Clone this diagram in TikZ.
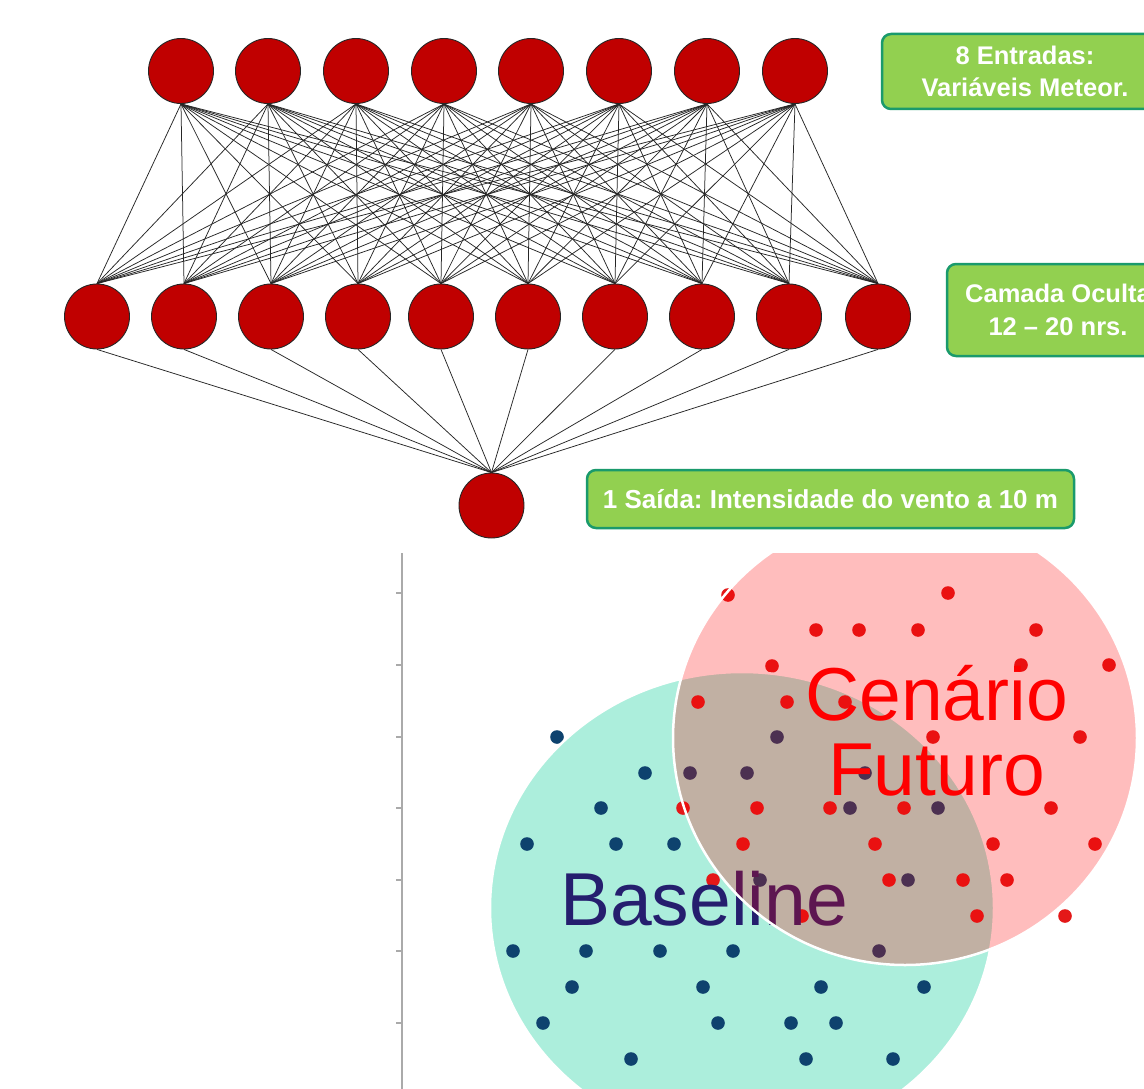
\documentclass[tikz,border=0pt]{standalone}
\usepackage{fontspec}
\setmainfont{Liberation Sans}
\frenchspacing
\definecolor{neuronred}{HTML}{C00000}
\definecolor{boxfill}{HTML}{92D050}
\definecolor{boxline}{HTML}{1A9A6C}
\definecolor{tealfill}{RGB}{172,238,220}
\definecolor{dotblue}{RGB}{14,66,110}
\definecolor{dotred}{RGB}{228,24,24}
\definecolor{basecol}{RGB}{37,30,110}
\definecolor{axisgray}{RGB}{170,170,170}
\begin{document}
\begin{tikzpicture}[x=1pt,y=-1pt,
  neuron/.style={circle,fill=neuronred,draw=black!85,line width=0.9pt,minimum size=65pt,inner sep=0pt},
  link/.style={line width=0.75pt,black!85},
  labelbox/.style={rounded corners=9pt,fill=boxfill,draw=boxline,line width=2.5pt,text=white,align=center,inner sep=0pt},
  axisline/.style={draw=axisgray,line width=1.4pt},
  bigword/.style={font=\fontsize{75}{75}\selectfont,anchor=base,inner sep=0pt},
  ringline/.style={draw=white,line width=2.5pt}]
\useasboundingbox (0,0) rectangle (1144,1089);
\fill[white] (0,0) rectangle (1144,1089);
\clip (0,0) rectangle (1144,1089);

% ---- neural network ----
\foreach \x [count=\i] in {181,268,356,444,531,619,707,795}
  \node[neuron] (i\i) at (\x,71) {};
\foreach \x [count=\j] in {97,184,271,358,441,528,615,702,789,878}
  \node[neuron] (h\j) at (\x,316.5) {};
\node[neuron] (o) at (491.5,505.5) {};
\foreach \i in {1,...,8}
  \foreach \j in {1,...,10}
    \draw[link] (i\i.south) -- (h\j.north);
\foreach \j in {1,...,10}
  \draw[link] (h\j.south) -- (o.north);

% ---- labels ----
\node[labelbox,minimum width=286pt,minimum height=75pt,font=\bfseries\fontsize{25.5}{32}\selectfont] (lab1) at (1025,71.5) {8 Entradas:\\Variáveis Meteor.};
\node[labelbox,minimum width=222pt,minimum height=92pt,font=\bfseries\fontsize{25.5}{33}\selectfont] (lab2) at (1058,310) {Camada Oculta\\12 – 20 nrs.};
\node[labelbox,minimum width=487pt,minimum height=58pt,font=\bfseries\fontsize{26}{32}\selectfont] (lab3) at (830.5,499) {1 Saída: Intensidade do vento a 10 m};

% ---- scatter ----
\draw[axisline] (402,553) -- (402,1089);
\foreach \y in {593,665,737,808,880,951,1023}
  \draw[axisline] (396,\y) -- (402,\y);

\begin{scope}
\clip (402,553) rectangle (1144,1089);
\fill[tealfill] (742,908) ellipse [x radius=252pt, y radius=236pt];
\foreach \x/\y in {557/737, 645/773, 690/773, 747/773, 865/773, 777/737,
  601/808, 850/808, 938/808, 527/844, 616/844, 674/844, 760/880, 908/880,
  513/951, 586/951, 660/951, 733/951, 879/951, 572/987, 703/987, 821/987, 924/987,
  543/1023, 718/1023, 791/1023, 836/1023, 631/1059, 806/1059, 893/1059}
  \fill[dotblue] (\x,\y) circle (6.8pt);
\foreach \x/\y in {728/595, 948/593, 816/630, 859/630, 918/630, 1036/630,
  772/666, 1021/665, 1109/665, 698/702, 787/702, 845/702, 933/737, 1080/737,
  683/808, 757/808, 830/808, 904/808, 1051/808, 743/844, 875/844, 993/844, 1095/844,
  713/880, 889/880, 963/880, 1007/880, 802/916, 977/916, 1065/916}
  \fill[dotred] (\x,\y) circle (6.8pt);
\draw[ringline] (742,908) ellipse [x radius=252pt, y radius=236pt];
\node[bigword,text=basecol] (base) at (704,925) {Baseline};
\fill[red,fill opacity=0.26] (905,738) ellipse [x radius=232pt, y radius=227pt];
\draw[ringline] (905,738) ellipse [x radius=232pt, y radius=227pt];
\end{scope}
\node[bigword,text=red] (cen) at (936.5,720) {Cenário};
\node[bigword,text=red] (fut) at (936.5,795) {Futuro};
\end{tikzpicture}
\end{document}
